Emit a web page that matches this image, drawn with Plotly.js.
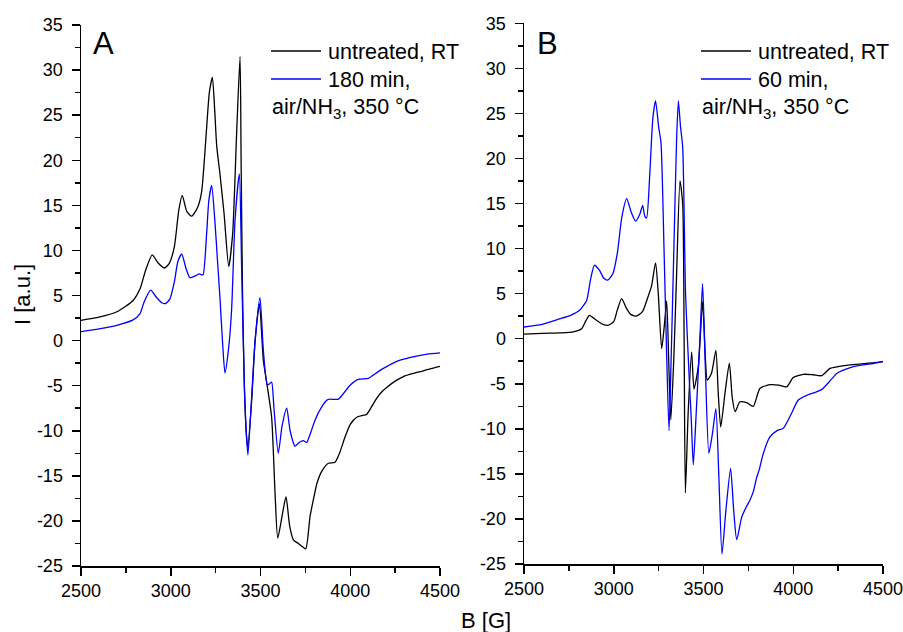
<!DOCTYPE html>
<html>
<head>
<meta charset="utf-8">
<script src="https://cdn.plot.ly/plotly-3.0.1.min.js"></script>
<style>html,body{margin:0;padding:0;background:#fff;}#chart{width:903px;height:632px;}</style>
</head>
<body>
<div id="chart"></div>
<script>
// Panel A, untreated RT
const fieldA_untreated = [2500,2600,2700,2790,2830,2860,2897,2930,2964,2990,3020,3045,3064,3090,3117,3150,3172,3195,3215,3232,3245,3256,3274,3297,3323,3345,3367,3386,3392,3400,3410,3420,3429,3451,3470,3494,3516,3538,3562,3581,3596,3620,3642,3662,3683,3711,3730,3752,3776,3794,3815,3841,3878,3915,3940,3971,4000,4036,4070,4091,4120,4147,4175,4203,4250,4296,4350,4407,4450,4500];
const intensityA_untreated = [2.25,2.6,3.2,4.45,5.8,7.8,9.5,8.6,8.05,8.5,10.4,14.5,16.1,14.3,13.8,14.8,16.5,22.2,27.5,29.2,25.5,21.6,18.5,14.1,8.2,11.9,23,31.5,20,5,-5,-10,-11.8,-6.6,0,4.1,-2.2,-5.1,-8.5,-16.9,-21.9,-19.5,-17.3,-20.5,-22.1,-22.5,-22.8,-23.1,-19.5,-17.7,-15.8,-14.5,-13.6,-13.5,-12.5,-10.7,-9.3,-8.5,-8.3,-8.2,-7.3,-6.4,-5.7,-5.2,-4.5,-4.0,-3.65,-3.35,-3.1,-2.85];

// Panel A, 180 min air/NH3 350 °C
const fieldA_treated = [2500,2600,2700,2790,2829,2850,2888,2920,2950,2970,2995,3020,3040,3061,3085,3105,3117,3140,3159,3170,3180,3200,3212,3228,3245,3260,3274,3288,3302,3321,3339,3358,3382,3395,3410,3420,3430,3450,3470,3497,3516,3538,3550,3562,3575,3599,3620,3646,3665,3692,3715,3738,3757,3780,3804,3841,3870,3887,3934,3965,3999,4045,4101,4130,4166,4210,4259,4310,4370,4430,4500];
const intensityA_treated = [1.0,1.3,1.7,2.3,3.0,4.2,5.6,4.8,4.2,4.1,4.6,6.5,8.8,9.6,8.0,7.0,7.0,7.2,7.4,7.3,7.3,11.9,15.5,17.2,13.5,9.0,4.8,0,-3.6,-1.1,3.4,13.3,18.5,8,-5,-10,-12.7,-6.5,0,4.8,-1.1,-4.9,-4.8,-4.6,-7.5,-12.5,-9.5,-7.5,-10,-11.7,-11.3,-11.1,-11.3,-10.2,-8.8,-7.35,-6.6,-6.5,-6.5,-5.8,-4.95,-4.3,-4.2,-3.8,-3.3,-2.8,-2.3,-2.0,-1.73,-1.5,-1.36];

// Panel B, untreated RT
const fieldB_untreated = [2500,2600,2700,2775,2821,2845,2864,2900,2940,2970,3000,3020,3044,3070,3095,3125,3160,3190,3210,3233,3248,3267,3282,3295,3307,3318,3335,3350,3369,3384,3392,3399,3415,3434,3447,3471,3495,3510,3521,3545,3569,3582,3596,3620,3644,3660,3676,3703,3741,3777,3815,3870,3920,3963,4000,4056,4110,4158,4205,4250,4298,4350,4409,4500];
const intensityB_untreated = [0.5,0.6,0.65,0.75,1.1,2.0,2.6,2.1,1.6,1.5,1.9,3.2,4.45,3.4,2.7,2.5,3.0,4.6,5.8,8.4,5,-1.1,1.5,4.2,-3,-9.0,-2,7,17.5,15.0,0,-17.1,-8,-1.45,-5.6,-3.1,4.1,-2,-4.6,-3.8,-1.3,-6,-9.8,-6,-2.7,-6.5,-8.1,-7.0,-7.1,-7.5,-5.5,-5.1,-5.15,-5.35,-4.3,-3.95,-4.0,-4.1,-3.3,-3.1,-2.95,-2.85,-2.75,-2.55];

// Panel B, 60 min air/NH3 350 °C
const fieldB_treated = [2500,2600,2698,2760,2810,2849,2870,2892,2920,2945,2966,2995,3020,3045,3072,3098,3122,3145,3161,3173,3183,3200,3218,3233,3250,3263,3280,3295,3308,3320,3335,3350,3360,3372,3384,3400,3421,3432,3443,3460,3480,3495,3510,3530,3550,3569,3585,3603,3625,3651,3668,3685,3713,3740,3759,3777,3795,3811,3833,3870,3910,3944,3985,4028,4074,4115,4158,4200,4242,4290,4335,4390,4446,4500];
const intensityB_treated = [1.3,1.6,2.2,2.6,3.15,4.25,6.5,8.15,7.6,6.7,6.5,7.2,9.5,13.5,15.55,14.0,13.05,13.8,14.8,13.6,13.4,18,24.5,26.4,23.5,21.8,10,-2,-10.2,-2,10,22,26.4,23.5,21.3,5,-4.6,-9,-14.0,-8,0,6.1,-3,-12.7,-10.5,-7.75,-15,-23.9,-19,-14.4,-19,-22.3,-19.8,-18.6,-17.9,-17.0,-15.5,-14.5,-12.75,-10.9,-10.2,-9.95,-8.5,-6.8,-6.3,-6.0,-5.65,-4.8,-3.85,-3.4,-3.1,-2.9,-2.75,-2.55];

const xTickVals = [2500,3000,3500,4000,4500];
const xTickText = ["2500","3000","3500","4000","4500"];
const xMinorVals = [2750,3250,3750,4250];
const yTickVals = [-25,-20,-15,-10,-5,0,5,10,15,20,25,30,35];
const yTickText = ["-25","-20","-15","-10","-5","0","5","10","15","20","25","30","35"];
const yMinorVals = [-22.5,-17.5,-12.5,-7.5,-2.5,2.5,7.5,12.5,17.5,22.5,27.5,32.5];

const legendA = ["untreated, RT", "180 min,", "air/NH<sub>3</sub>, 350 °C"];
const legendB = ["untreated, RT", "60 min,", "air/NH<sub>3</sub>, 350 °C"];

const FONT = "Liberation Sans, Arial, sans-serif";
const W = 903, H = 632;
const px = v => v / W;
const py = v => 1 - v / H;

const lineStyle = (c) => ({color: c, width: 1.3, shape: 'spline', smoothing: 0.6});

const traces = [
  {x: fieldA_untreated, y: intensityA_untreated, xaxis: 'x', yaxis: 'y', mode: 'lines', line: lineStyle('#000000'), name: legendA[0]},
  {x: fieldA_treated, y: intensityA_treated, xaxis: 'x', yaxis: 'y', mode: 'lines', line: lineStyle('#0000ff'), name: legendA[1]},
  {x: fieldB_untreated, y: intensityB_untreated, xaxis: 'x2', yaxis: 'y2', mode: 'lines', line: lineStyle('#000000'), name: legendB[0]},
  {x: fieldB_treated, y: intensityB_treated, xaxis: 'x2', yaxis: 'y2', mode: 'lines', line: lineStyle('#0000ff'), name: legendB[1]}
];

function xAxis(domain, anchor) {
  return {
    domain: domain, anchor: anchor, range: [2500, 4500],
    showline: true, linecolor: '#000', linewidth: 1.5, mirror: false,
    showgrid: false, zeroline: false,
    ticks: 'outside', ticklen: 8, tickwidth: 1.5, tickcolor: '#000',
    tickmode: 'array', tickvals: xTickVals, ticktext: xTickText,
    ticklabeloverflow: 'allow',
    minor: {tickmode: 'array', tickvals: xMinorVals, ticks: 'outside', ticklen: 5, tickwidth: 1.5, tickcolor: '#000', showgrid: false},
    tickfont: {family: FONT, size: 18, color: '#000'}
  };
}
function yAxis(domain, anchor) {
  return {
    domain: domain, anchor: anchor, range: [-25, 35],
    showline: true, linecolor: '#000', linewidth: 1.5, mirror: false,
    showgrid: false, zeroline: false,
    ticks: 'outside', ticklen: 8, tickwidth: 1.5, tickcolor: '#000',
    tickmode: 'array', tickvals: yTickVals, ticktext: yTickText,
    ticklabelstandoff: 5, ticklabeloverflow: 'allow',
    minor: {tickmode: 'array', tickvals: yMinorVals, ticks: 'outside', ticklen: 5, tickwidth: 1.5, tickcolor: '#000', showgrid: false},
    tickfont: {family: FONT, size: 18, color: '#000'}
  };
}

function legendItems(x0, labels) {
  const shapes = [
    {type: 'line', xref: 'paper', yref: 'paper', x0: px(x0), x1: px(x0 + 50), y0: py(51), y1: py(51), line: {color: '#000', width: 1.3}},
    {type: 'line', xref: 'paper', yref: 'paper', x0: px(x0), x1: px(x0 + 50), y0: py(79), y1: py(79), line: {color: '#0000ff', width: 1.3}}
  ];
  const ann = [
    {text: labels[0], x: px(x0 + 55), y: py(52), xanchor: 'left', yanchor: 'middle'},
    {text: labels[1], x: px(x0 + 55), y: py(80), xanchor: 'left', yanchor: 'middle'},
    {text: labels[2], x: px(x0 - 1), y: py(108), xanchor: 'left', yanchor: 'middle'}
  ].map(a => Object.assign(a, {xref: 'paper', yref: 'paper', showarrow: false, font: {family: FONT, size: 21.5, color: '#000'}}));
  return {shapes, ann};
}

const lgA = legendItems(271, legendA);
const lgB = legendItems(701, legendB);

const annotations = [
  {text: 'A', x: px(103), y: py(43), xanchor: 'center', yanchor: 'middle', font: {family: FONT, size: 31, color: '#000'}},
  {text: 'B', x: px(547), y: py(43), xanchor: 'center', yanchor: 'middle', font: {family: FONT, size: 31, color: '#000'}},
  {text: 'I [a.u.]', x: px(22), y: py(295), xanchor: 'center', yanchor: 'middle', textangle: -90, font: {family: FONT, size: 22, color: '#000'}},
  {text: 'B [G]', x: px(486), y: py(620), xanchor: 'center', yanchor: 'middle', font: {family: FONT, size: 22, color: '#000'}}
].map(a => Object.assign(a, {xref: 'paper', yref: 'paper', showarrow: false})).concat(lgA.ann, lgB.ann);

const layout = {
  width: W, height: H,
  margin: {l: 0, r: 0, t: 0, b: 0},
  paper_bgcolor: '#fff', plot_bgcolor: '#fff',
  showlegend: false,
  font: {family: FONT, color: '#000'},
  xaxis: xAxis([px(81), px(440)], 'y'),
  yaxis: yAxis([py(566), py(25)], 'x'),
  xaxis2: xAxis([px(524), px(883)], 'y2'),
  yaxis2: yAxis([py(564), py(23.3)], 'x2'),
  shapes: lgA.shapes.concat(lgB.shapes),
  annotations: annotations
};

Plotly.newPlot('chart', traces, layout, {displayModeBar: false, staticPlot: true});
</script>
</body>
</html>
